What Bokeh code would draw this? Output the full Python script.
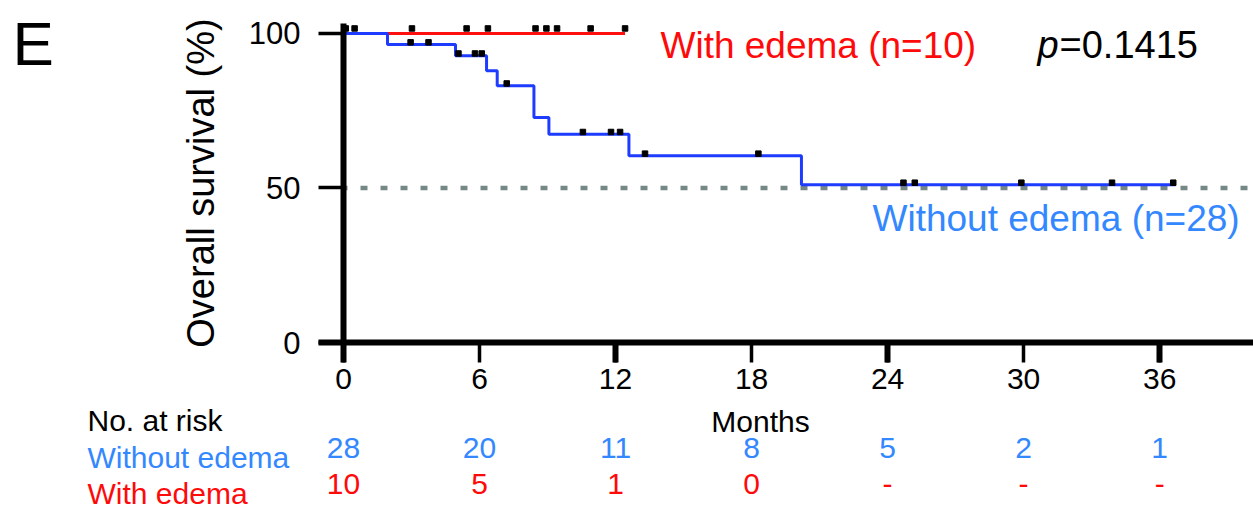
import numpy as np
from bokeh.plotting import figure
from bokeh.layouts import column, row
from bokeh.models import Range1d, FixedTicker, Label, LabelSet, ColumnDataSource, Span
from bokeh.core.properties import value
from bokeh.embed import file_html
from bokeh.resources import INLINE

# ---------------- data ----------------
# Kaplan-Meier steps (months, survival %)
without_times = [0, 1.94, 4.94, 6.31, 6.78, 8.40, 9.06, 12.59, 20.2, 36.7]
without_surv = [100, 96.4, 92.8, 87.9, 83.1, 72.8, 67.4, 60.4, 51.0, 51.0]
without_censor = [2.96, 3.75, 5.07, 5.8, 6.1, 7.2, 10.56, 11.8, 12.2, 13.3,
                  18.3, 24.7, 25.2, 29.9, 33.9, 36.6]

with_times = [0, 12.42]
with_surv = [100, 100]
with_censor = [0.1, 0.49, 3.02, 5.43, 6.37, 8.47, 8.95, 9.42, 10.9, 12.42]

x_ticks = [0, 6, 12, 18, 24, 30, 36]
y_ticks = [0, 50, 100]
median_line = 50

risk_months = [0, 6, 12, 18, 24, 30, 36]
risk_without = ["28", "20", "11", "8", "5", "2", "1"]
risk_with = ["10", "5", "1", "0", "-", "-", "-"]

p_value_text = "=0.1415"
label_with = "With edema (n=10)"
label_without = "Without edema (n=28)"

# ---------------- layout ----------------
W, H = 1253, 517
LEFT_W = 170            # width of the panel holding the "E"
TOP_H = 403             # height of the upper row
FRAME_L, FRAME_T, FRAME_B = 343, 23, 342
X_END = 40.14
Y_END = 103.2
FONT = "Liberation Sans"
K = 0.32                # baseline correction (fraction of font size)

BLUE_LINE = "#1e3cff"
RED_LINE = "#ff1010"
BLUE_TXT = "#3388ff"
RED_TXT = "#ff0a0a"

px_per_x = (W - FRAME_L) / X_END
px_per_y = (FRAME_B - FRAME_T) / Y_END


def px2x(px):
    return (px - FRAME_L) / px_per_x


def py2y(py):
    return (FRAME_B - py) / px_per_y


def blank(width, height, xr, yr):
    f = figure(width=width, height=height, x_range=xr, y_range=yr,
               output_backend="svg", toolbar_location=None,
               x_axis_location=None, y_axis_location=None,
               min_border_left=0, min_border_right=0,
               min_border_top=0, min_border_bottom=0)
    f.grid.visible = False
    f.outline_line_color = None
    f.background_fill_color = "white"
    f.border_fill_color = "white"
    return f


# ---------- main plot ----------
p = figure(width=W - LEFT_W, height=TOP_H, x_range=Range1d(0, X_END),
           y_range=Range1d(0, Y_END), output_backend="svg", toolbar_location=None,
           min_border_left=FRAME_L - LEFT_W, min_border_right=0,
           min_border_top=FRAME_T, min_border_bottom=TOP_H - FRAME_B)
p.xgrid.visible = False
p.ygrid.visible = False
p.outline_line_color = None
p.background_fill_color = "white"
p.border_fill_color = "white"

xa = p.xaxis[0]
xa.ticker = FixedTicker(ticks=x_ticks, minor_ticks=[0, 12, 24, 36])
xa.axis_line_width = 6
xa.axis_line_color = "black"
xa.major_tick_line_width = 3.5
xa.major_tick_out = 20
xa.major_tick_in = 0
xa.minor_tick_line_width = 6
xa.minor_tick_out = 20
xa.minor_tick_in = 0
xa.major_label_text_font = FONT
xa.major_label_text_font_size = "30px"
xa.major_label_text_color = "black"
xa.major_label_standoff = 6

ya = p.yaxis[0]
ya.ticker = FixedTicker(ticks=y_ticks, minor_ticks=[0])
ya.axis_line_width = 6
ya.axis_line_color = "black"
ya.major_tick_line_width = 3.5
ya.major_tick_out = 25
ya.major_tick_in = 0
ya.minor_tick_line_width = 6
ya.minor_tick_out = 25
ya.minor_tick_in = 0
ya.major_label_text_font = FONT
ya.major_label_text_font_size = "31px"
ya.major_label_text_color = "black"
ya.major_label_standoff = 18
ya.axis_label = "Overall survival (%)"
ya.axis_label_text_font = FONT
ya.axis_label_text_font_size = "38px"
ya.axis_label_text_font_style = "normal"
ya.axis_label_text_color = "black"
ya.axis_label_standoff = 24

span = Span(location=median_line, dimension="width", line_color="#768886",
            line_width=4.5, line_dash="7 13", line_dash_offset=3, level="underlay")
p.add_layout(span)

p.step(with_times, with_surv, mode="after", line_color=RED_LINE, line_width=3)
p.step(without_times, without_surv, mode="after", line_color=BLUE_LINE, line_width=3)


def level_at(times, surv, t):
    idx = np.searchsorted(np.asarray(times), np.asarray(t), side="right") - 1
    return np.asarray(surv)[idx]


wc_y = level_at(without_times, without_surv, without_censor) + 0.7
rc_y = level_at(with_times, with_surv, with_censor) + 1.6
p.scatter(without_censor, wc_y, marker="square", size=5.5, color="black")
p.scatter(with_censor, rc_y, marker="square", size=5.5, color="black")


def main_label(px, py, text, size, color, style="normal", align="left"):
    p.add_layout(Label(x=px2x(px), y=py2y(py - K * size), text=text, text_font=FONT,
                       text_font_size=f"{size}px", text_font_style=style,
                       text_color=color, text_baseline="alphabetic",
                       text_align=align))


main_label(660, 57, label_with, 37, RED_TXT)
main_label(1037, 57, "p", 38, "black", style="italic")
main_label(1059, 57, p_value_text, 38, "black")
main_label(872, 230, label_without, 37, BLUE_TXT)

# ---------- left panel with the panel letter ----------
left = blank(LEFT_W, TOP_H, Range1d(0, LEFT_W), Range1d(TOP_H, 0))
left.add_layout(Label(x=12, y=63 - K * 62, text="E", text_font=FONT,
                      text_font_size="62px", text_color="black",
                      text_baseline="alphabetic", text_align="left"))

# ---------- bottom panel: axis title + risk table ----------
bottom = blank(W, H - TOP_H, Range1d(px2x(0), px2x(W)), Range1d(H, TOP_H))


def bot_label(px_x, py, text, size, color, align="left"):
    bottom.add_layout(Label(x=px2x(px_x), y=py - K * size, text=text, text_font=FONT,
                            text_font_size=f"{size}px", text_color=color,
                            text_baseline="alphabetic", text_align=align))


bot_label(760, 431, "Months", 30, "black", align="center")
bot_label(87, 430, "No. at risk", 30, "black")
bot_label(87, 467, "Without edema", 30, BLUE_TXT)
bot_label(87, 503, "With edema", 30, RED_TXT)

src_wo = ColumnDataSource(dict(x=risk_months, t=risk_without))
src_w = ColumnDataSource(dict(x=risk_months, t=risk_with))
bottom.add_layout(LabelSet(x="x", y=467 - K * 30, text="t", source=src_wo,
                           text_font=value(FONT), text_font_size=value("30px"),
                           text_color=BLUE_TXT, text_align="center",
                           text_baseline="alphabetic"))
bottom.add_layout(LabelSet(x="x", y=503 - K * 30, text="t", source=src_w,
                           text_font=value(FONT), text_font_size=value("30px"),
                           text_color=RED_TXT, text_align="center",
                           text_baseline="alphabetic"))

layout = column(row(column(left, spacing=0), p, spacing=0), bottom, spacing=0)
open("out.html", "w").write(file_html(layout, INLINE))
